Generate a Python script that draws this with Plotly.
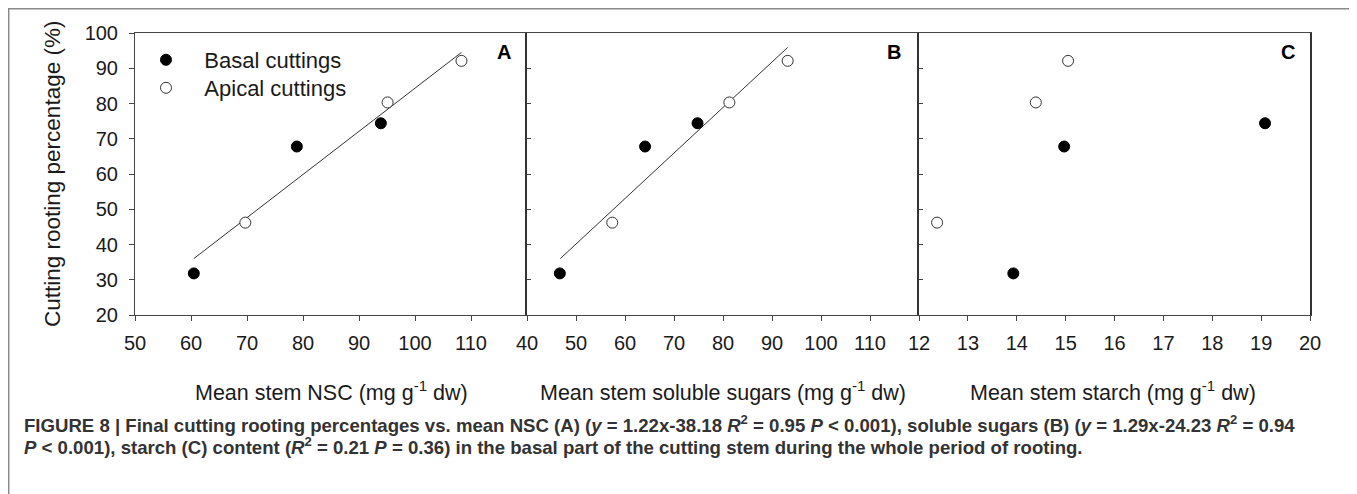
import plotly.graph_objects as go

# page is drawn with an 8px body margin, so the figure is 8px smaller and shifted
OFF = 8
W, H = 1357 - OFF, 494 - OFF

# ---------------- data ----------------
rooting_basal = [31.8, 67.8, 74.4]
rooting_apical = [46.2, 80.3, 92.1]

nsc_basal = [60.5, 78.9, 93.9]
nsc_apical = [69.7, 95.1, 108.3]
nsc_fit_x = [60.5, 108.3]
nsc_fit_y = [36.0, 94.5]

sugar_basal = [46.7, 64.1, 74.8]
sugar_apical = [57.4, 81.3, 93.2]
sugar_fit_x = [46.8, 93.2]
sugar_fit_y = [36.0, 95.9]

starch_basal = [13.93, 14.97, 19.08]
starch_apical = [12.37, 14.39, 15.05]

y_ticks = [20, 30, 40, 50, 60, 70, 80, 90, 100]
nsc_ticks = [50, 60, 70, 80, 90, 100, 110]
sugar_ticks = [40, 50, 60, 70, 80, 90, 100, 110]
starch_ticks = [12, 13, 14, 15, 16, 17, 18, 19, 20]

series_names = ["Basal cuttings", "Apical cuttings"]
panel_letters = ["A", "B", "C"]
x_titles = [
    "Mean stem NSC (mg g<sup>-1</sup> dw)",
    "Mean stem soluble sugars (mg g<sup>-1</sup> dw)",
    "Mean stem starch (mg g<sup>-1</sup> dw)",
]
y_title = "Cutting rooting percentage (%)"
caption_lines = [
    "FIGURE 8 | Final cutting rooting percentages vs. mean NSC (A) (<i>y</i> = 1.22x-38.18 <i>R</i><sup>2</sup> = 0.95 <i>P</i> < 0.001), soluble sugars (B) (<i>y</i> = 1.29x-24.23 <i>R</i><sup>2</sup> = 0.94",
    "<i>P</i> < 0.001), starch (C) content (<i>R</i><sup>2</sup> = 0.21 <i>P</i> = 0.36) in the basal part of the cutting stem during the whole period of rooting.",
]

# ---------------- layout geometry (screen pixels) ----------------
FONT = "Liberation Sans, Arial, sans-serif"
AX = "#444444"
TXT = "#1a1a1a"
px = lambda x: (x - OFF) / W
py = lambda y: 1 - (y - OFF) / H

panel_px = [(135, 527), (527, 919), (919, 1310)]
y_top, y_bot = 33, 315

fig = go.Figure()

basal_style = dict(mode="markers", marker=dict(size=11, color="black", line=dict(color="black", width=1)))
apical_style = dict(mode="markers", marker=dict(size=11, color="white", line=dict(color="#333333", width=1)))

xs_b = [nsc_basal, sugar_basal, starch_basal]
xs_a = [nsc_apical, sugar_apical, starch_apical]
fits = [(nsc_fit_x, nsc_fit_y), (sugar_fit_x, sugar_fit_y), None]
NB = "\u00a0\u00a0\u00a0"

for i in range(3):
    xa = "x" if i == 0 else f"x{i+1}"
    ya = "y" if i == 0 else f"y{i+1}"
    if fits[i] is not None:
        fig.add_trace(go.Scatter(x=fits[i][0], y=fits[i][1], mode="lines",
                                 line=dict(color="#333333", width=1),
                                 showlegend=False, xaxis=xa, yaxis=ya, hoverinfo="skip"))
    fig.add_trace(go.Scatter(x=xs_b[i], y=rooting_basal, name=NB + series_names[0],
                             showlegend=(i == 0), legend="legend",
                             xaxis=xa, yaxis=ya, **basal_style))
    fig.add_trace(go.Scatter(x=xs_a[i], y=rooting_apical, name=NB + series_names[1],
                             showlegend=(i == 0), legend="legend2",
                             xaxis=xa, yaxis=ya, **apical_style))

ranges = [[50, 120], [40, 120], [12, 20]]
tickvals = [nsc_ticks, sugar_ticks, starch_ticks]
axes = {}
for i in range(3):
    xk = "xaxis" if i == 0 else f"xaxis{i+1}"
    yk = "yaxis" if i == 0 else f"yaxis{i+1}"
    x0, x1 = panel_px[i]
    axes[xk] = dict(
        domain=[px(x0), px(x1)], range=ranges[i], tickvals=tickvals[i],
        anchor="y" if i == 0 else f"y{i+1}", automargin=False,
        showline=True, linecolor=AX, linewidth=1, mirror=True,
        ticks="outside", ticklen=5, tickcolor=AX, showgrid=False, zeroline=False,
        ticklabelstandoff=5,
        tickfont=dict(family=FONT, size=20, color=TXT),
    )
    ydict = dict(
        domain=[py(y_bot), py(y_top)], range=[20, 100], tickvals=y_ticks,
        anchor="x" if i == 0 else f"x{i+1}", automargin=False,
        showline=True, showgrid=False, zeroline=False, tickcolor=AX,
        tickfont=dict(family=FONT, size=20, color=TXT),
    )
    if i == 0:
        ydict.update(linecolor=AX, linewidth=1, ticks="outside", ticklen=5,
                     ticklabelstandoff=7)
    else:
        ydict.update(linecolor="#333333", linewidth=2, ticks="inside", ticklen=4,
                     showticklabels=False)
    if i == 2:
        ydict.update(mirror=True)
    axes[yk] = ydict

annotations = []
letter_x = [504, 894, 1288]
for i, L in enumerate(panel_letters):
    annotations.append(dict(x=px(letter_x[i]), y=py(52), xref="paper", yref="paper",
                            text=f"<b>{L}</b>", showarrow=False,
                            font=dict(family=FONT, size=20, color="black"),
                            xanchor="center", yanchor="middle"))
title_x = [331, 723, 1113]
for i, t in enumerate(x_titles):
    annotations.append(dict(x=px(title_x[i]), y=py(391), xref="paper", yref="paper",
                            text=t, showarrow=False,
                            font=dict(family=FONT, size=21.5, color=TXT),
                            xanchor="center", yanchor="middle"))
annotations.append(dict(x=px(52), y=py(174), xref="paper", yref="paper", text=y_title,
                        textangle=-90, showarrow=False,
                        font=dict(family=FONT, size=22.5, color=TXT),
                        xanchor="center", yanchor="middle"))
cap_y = [424, 446]
for j, line in enumerate(caption_lines):
    annotations.append(dict(x=px(22), y=py(cap_y[j]), xref="paper", yref="paper",
                            text=f"<b>{line}</b>", showarrow=False,
                            font=dict(family=FONT, size=18.6, color="#333333"),
                            xanchor="left", yanchor="middle", align="left"))

shapes = [
    dict(type="line", xref="paper", yref="paper", x0=px(8.7), x1=px(8.7), y0=py(6), y1=py(500),
         line=dict(color="#8a8a8a", width=1.5)),
    dict(type="line", xref="paper", yref="paper", x0=px(1355), x1=px(1355), y0=py(6), y1=py(500),
         line=dict(color="#8a8a8a", width=1.5)),
    dict(type="line", xref="paper", yref="paper", x0=px(8.7), x1=px(1355), y0=py(8.7), y1=py(8.7),
         line=dict(color="#8a8a8a", width=1.5)),
]

legend_style = dict(xanchor="left", yanchor="top",
                    font=dict(family=FONT, size=22, color=TXT),
                    bgcolor="rgba(0,0,0,0)")
fig.update_layout(
    width=W, height=H, margin=dict(l=0, r=0, t=0, b=0, autoexpand=False),
    paper_bgcolor="white", plot_bgcolor="white",
    showlegend=True,
    legend=dict(x=px(146), y=py(39), **legend_style),
    legend2=dict(x=px(146), y=py(67), **legend_style),
    annotations=annotations, shapes=shapes,
    **axes,
)

fig.write_html("out.html")
